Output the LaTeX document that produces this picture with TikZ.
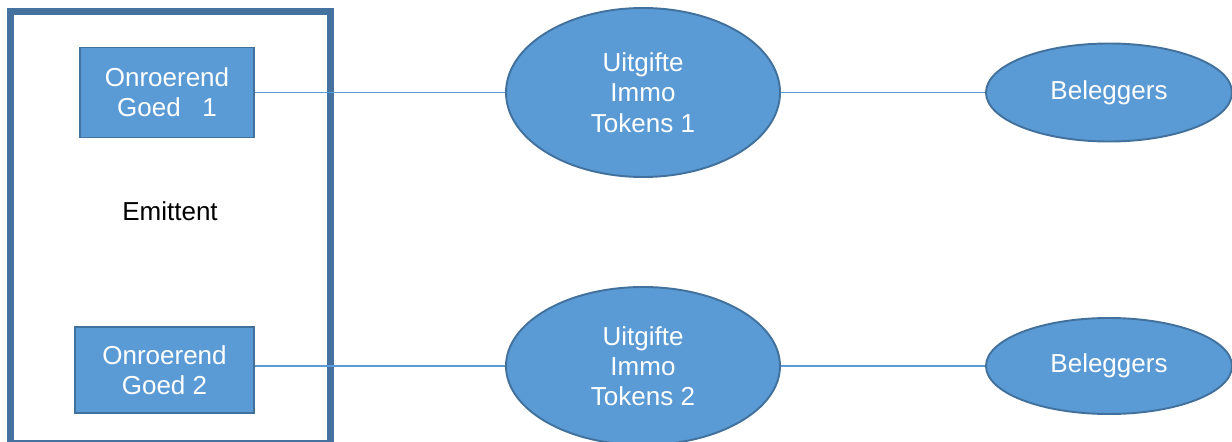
\documentclass[tikz,border=0pt]{standalone}
\usepackage{fontspec}
\setmainfont{Liberation Sans}
\usepackage{xcolor}
\usepackage{tikz}
\usetikzlibrary{shapes.geometric}

\definecolor{vulblauw}{RGB}{91,155,213}
\definecolor{randblauw}{RGB}{65,113,156}
\definecolor{kaderblauw}{RGB}{69,114,158}

\tikzset{
	goed/.style={draw=randblauw, line width=1.1pt, fill=vulblauw, text=white,
		align=center, inner sep=0pt},
	token/.style={ellipse, draw=randblauw, line width=1.1pt, fill=vulblauw,
		text=white, align=center, inner sep=0pt},
	lijn/.style={draw=vulblauw, line width=0.9pt}
}

\begin{document}
\begin{tikzpicture}[font=\fontsize{14.8}{17.2}\selectfont]
		\useasboundingbox (0,0) rectangle (24.64,8.82);
		\clip (0,0) rectangle (24.64,8.82);
		
		% kader van de emittent
		\draw[kaderblauw, line width=0.14cm] (0.21,-0.04) rectangle (6.61,8.6);
		\node (emittent) at (3.4,4.6) {Emittent};
		
		\node[goed, minimum width=3.48cm, minimum height=1.8cm] (goed1) at (3.34,6.97) {Onroerend\\Goed\ \ \ 1};
		\node[goed, minimum width=3.58cm, minimum height=1.72cm] (goed2) at (3.29,1.42) {Onroerend\\Goed 2};
		
		\node[token, minimum width=5.48cm, minimum height=3.38cm] (tok1) at (12.86,6.97) {Uitgifte\\Immo\\Tokens 1};
		\node[token, minimum width=5.48cm, minimum height=3.16cm] (tok2) at (12.86,1.5) {Uitgifte\\Immo\\Tokens 2};
		
		\node[token, minimum width=4.92cm, minimum height=1.96cm] (bel1) at (22.18,6.97) {Beleggers};
		\node[token, minimum width=4.92cm, minimum height=1.92cm] (bel2) at (22.18,1.5) {Beleggers};
		
		\draw[lijn] (goed1) -- (tok1);
		\draw[lijn] (tok1) -- (bel1);
		\draw[lijn] (goed2.east |- tok2.west) -- (tok2);
		\draw[lijn] (tok2) -- (bel2);
	\end{tikzpicture}
\end{document}
